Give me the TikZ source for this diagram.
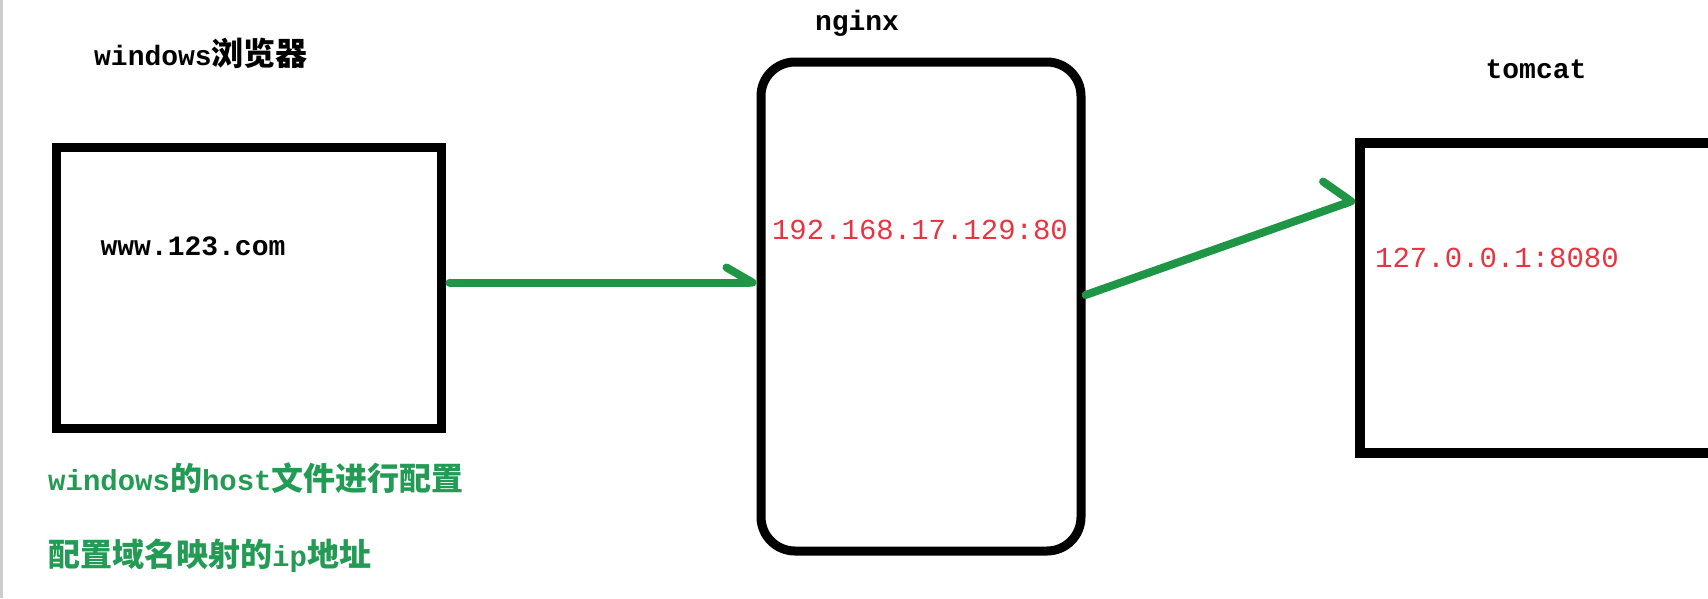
\documentclass[tikz,border=0pt]{standalone}
\usepackage{fontspec}
\setmainfont{Liberation Mono}
\newfontfamily\cjk{Noto Sans CJK SC}
\usetikzlibrary{positioning,arrows.meta}

\definecolor{linegreen}{RGB}{30,150,70}
\definecolor{notegreen}{RGB}{35,155,85}
\definecolor{addrred}{RGB}{232,52,64}

\newcommand{\zh}[1]{{\cjk\fontsize{32}{36}\selectfont #1}}

\tikzset{
    box/.style={draw=black, line width=9pt, inner sep=0pt},
    title/.style={inner sep=0pt, font=\fontsize{28}{32}\selectfont\bfseries},
    addr/.style={inner sep=0pt, text=addrred, font=\fontsize{29}{32}\selectfont},
    note/.style={inner sep=0pt, anchor=west, text=notegreen, font=\fontsize{29}{32}\selectfont\bfseries},
    flow/.style={draw=linegreen, line width=8pt, line cap=round, line join=round},
}

\begin{document}
\begin{tikzpicture}[x=1pt, y=-1pt]
    \useasboundingbox (0,0) rectangle (1708,598);
    \clip (0,0) rectangle (1708,598);
    \draw[gray!40, line width=3pt] (1.5,0) -- (1.5,598);

    % Browser
    \node[box, minimum width=385pt, minimum height=281pt] (browser) at (248.5,287.5) {};
    \node[title] (browser-title) at (201,53) {windows\zh{浏览器}};
    \node[title] (url) at (193,246) {www.123.com};
    \node[note] (host-note) at (48,478) {windows\zh{的}host\zh{文件进行配置}};
    \node[note] (ip-note) at (48,556) {\zh{配置域名映射的}ip\zh{地址}};

    % Nginx
    \node[box, rounded corners=34pt, minimum width=320pt, minimum height=489pt] (nginx) at (921,306.5) {};
    \node[title] (nginx-title) at (857,23) {nginx};
    \node[addr] (nginx-addr) at (920,230) {192.168.17.129:80};

    % Tomcat (runs off the right edge)
    \node[box, line width=10pt, minimum width=420pt, minimum height=310pt] (tomcat) at (1570,298) {};
    \node[title] (tomcat-title) at (1536,69) {tomcat};
    \node[addr] (tomcat-addr) at (1497,258) {127.0.0.1:8080};

    % Requests
    \draw[flow, -{Straight Barb[left, length=26pt, width=30pt, round]}, shorten <=4pt]
        ([yshift=5pt]browser.east) -- ([yshift=5pt]browser.east -| nginx.west);
    \draw[flow, -{Straight Barb[left, length=20pt, width=56pt, round]}]
        ([yshift=11.5pt]nginx.east) -- ([yshift=98pt]tomcat.west);
\end{tikzpicture}
\end{document}
